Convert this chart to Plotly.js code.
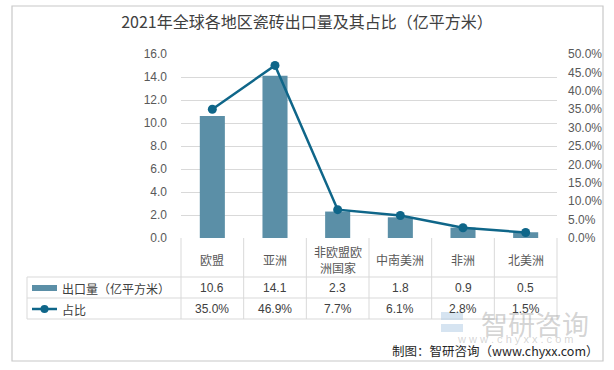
<!DOCTYPE html>
<html>
<head>
<meta charset="utf-8">
<script src="https://cdn.plot.ly/plotly-3.0.1.min.js"></script>
<style>html,body{margin:0;padding:0;background:#fff;}#chart{width:614px;height:370px;}</style>
</head>
<body>
<div id="chart"></div>
<script>
const titleText = '2021年全球各地区瓷砖出口量及其占比（亿平方米）';
const categories = ['欧盟', '亚洲', '非欧盟欧洲国家', '中南美洲', '非洲', '北美洲'];
const exportVolume = [10.6, 14.1, 2.3, 1.8, 0.9, 0.5];
const sharePct = [0.350, 0.469, 0.077, 0.061, 0.028, 0.015];
const seriesNames = ['出口量（亿平方米）', '占比'];
const leftTicks = [0, 2, 4, 6, 8, 10, 12, 14, 16];
const rightTicks = [0, 0.05, 0.10, 0.15, 0.20, 0.25, 0.30, 0.35, 0.40, 0.45, 0.50];
const sourceText = '制图：智研咨询（www.chyxx.com）';

const W = 614, H = 370;
const L = 181, R = 557, T = 54, B = 238;
const px = x => (x - L) / (R - L);
const py = y => (B - y) / (B - T);

const barColor = '#5b8fa7';
const lineColor = '#0f6689';
const gridColor = '#d9d9d9';
const tableColor = '#d9d9d9';
const font = 'Liberation Sans, "Noto Sans CJK SC", sans-serif';
const cjk = '"Noto Sans CJK SC", "Liberation Sans", sans-serif';

const traces = [
  {type: 'bar', x: categories, y: exportVolume, name: seriesNames[0],
   marker: {color: barColor}, width: 0.4, hoverinfo: 'skip'},
  {type: 'scatter', mode: 'lines+markers', x: categories, y: sharePct, name: seriesNames[1],
   yaxis: 'y2', line: {color: lineColor, width: 2.5}, marker: {color: lineColor, size: 9}, hoverinfo: 'skip'}
];

const shapes = [];
const annotations = [];
const n = categories.length;
for (let i = 0; i <= n; i++) {
  shapes.push({type: 'line', xref: 'paper', yref: 'paper', x0: i / n, x1: i / n, y0: 0, y1: py(319),
    line: {color: tableColor, width: 1}});
}
[277, 298, 319].forEach(yy => {
  shapes.push({type: 'line', xref: 'paper', yref: 'paper', x0: px(27), x1: 1, y0: py(yy), y1: py(yy),
    line: {color: tableColor, width: 1}});
});
shapes.push({type: 'line', xref: 'paper', yref: 'paper', x0: px(27), x1: px(27), y0: py(277), y1: py(319),
  line: {color: tableColor, width: 1}});
shapes.push({type: 'rect', xref: 'paper', yref: 'paper', x0: px(32), x1: px(57), y0: py(285), y1: py(291),
  fillcolor: barColor, line: {width: 0}});
shapes.push({type: 'line', xref: 'paper', yref: 'paper', x0: px(32), x1: px(57), y0: py(309), y1: py(309),
  line: {color: lineColor, width: 2.5}});
shapes.push({type: 'circle', xref: 'paper', yref: 'paper', x0: px(40.5), x1: px(48.5), y0: py(305), y1: py(313),
  fillcolor: lineColor, line: {width: 0}});
shapes.push({type: 'rect', xref: 'paper', yref: 'paper', x0: px(12), x1: px(603), y0: py(6), y1: py(361),
  line: {color: '#c8c8c8', width: 1.2}, layer: 'below'});
shapes.push({type: 'rect', xref: 'paper', yref: 'paper', x0: px(441), x1: px(463), y0: py(312), y1: py(320),
  fillcolor: 'rgba(180,205,230,0.55)', line: {width: 0}});
shapes.push({type: 'rect', xref: 'paper', yref: 'paper', x0: px(441), x1: px(463), y0: py(324), y1: py(332),
  fillcolor: 'rgba(180,205,230,0.55)', line: {width: 0}});

categories.forEach((c, i) => {
  const label = c.length > 4 ? c.slice(0, 4) + '<br>' + c.slice(4) : c;
  annotations.push({xref: 'x', yref: 'paper', x: c, y: py(259), text: label, showarrow: false,
    font: {family: cjk, size: 12, color: '#595959'}, xanchor: 'center', yanchor: 'middle'});
  annotations.push({xref: 'x', yref: 'paper', x: c, y: py(288), text: exportVolume[i].toFixed(1), showarrow: false,
    font: {family: font, size: 12, color: '#404040'}, xanchor: 'center', yanchor: 'middle'});
  annotations.push({xref: 'x', yref: 'paper', x: c, y: py(309), text: (sharePct[i] * 100).toFixed(1) + '%', showarrow: false,
    font: {family: font, size: 12, color: '#404040'}, xanchor: 'center', yanchor: 'middle'});
});
annotations.push({xref: 'paper', yref: 'paper', x: px(60), y: py(288), text: seriesNames[0], showarrow: false,
  font: {family: cjk, size: 12, color: '#404040'}, xanchor: 'left', yanchor: 'middle'});
annotations.push({xref: 'paper', yref: 'paper', x: px(60), y: py(309), text: seriesNames[1], showarrow: false,
  font: {family: cjk, size: 12, color: '#404040'}, xanchor: 'left', yanchor: 'middle'});
annotations.push({xref: 'paper', yref: 'paper', x: px(535), y: py(323), text: '智研咨询', showarrow: false,
  font: {family: cjk, size: 27, color: 'rgba(160,160,160,0.45)'}, xanchor: 'center', yanchor: 'middle'});
annotations.push({xref: 'paper', yref: 'paper', x: px(515), y: py(339), text: 'w w w . c h y x x . c o m', showarrow: false,
  font: {family: font, size: 11, color: 'rgba(160,160,160,0.45)'}, xanchor: 'center', yanchor: 'middle'});
annotations.push({xref: 'paper', yref: 'paper', x: px(601), y: py(350), text: sourceText, showarrow: false,
  font: {family: cjk, size: 12.5, color: '#262626'}, xanchor: 'right', yanchor: 'middle'});

const layout = {
  width: W, height: H,
  margin: {l: L, r: W - R, t: T, b: H - B, pad: 0},
  paper_bgcolor: '#ffffff', plot_bgcolor: '#ffffff',
  showlegend: false,
  title: {text: titleText, x: 0.5, xref: 'container', xanchor: 'center', y: 1 - 22 / H, yref: 'container', yanchor: 'middle',
    font: {family: cjk, size: 16, color: '#404040'}},
  xaxis: {type: 'category', showticklabels: false, showgrid: false, zeroline: false, showline: false,
    ticks: '', range: [-0.5, n - 0.5], fixedrange: true},
  yaxis: {range: [0, 16], tickvals: leftTicks, tickformat: '.1f', showgrid: true, gridcolor: gridColor, gridwidth: 1,
    zeroline: false, showline: false, ticks: '', ticklabelstandoff: 13,
    tickfont: {family: font, size: 12, color: '#595959'}},
  yaxis2: {range: [0, 0.5], tickvals: rightTicks, tickformat: '.1%', overlaying: 'y', side: 'right', showgrid: false,
    zeroline: false, showline: false, ticks: '', ticklabelstandoff: 10,
    tickfont: {family: font, size: 12, color: '#595959'}},
  shapes: shapes, annotations: annotations
};
Plotly.newPlot('chart', traces, layout, {staticPlot: true, displayModeBar: false});
</script>
</body>
</html>
